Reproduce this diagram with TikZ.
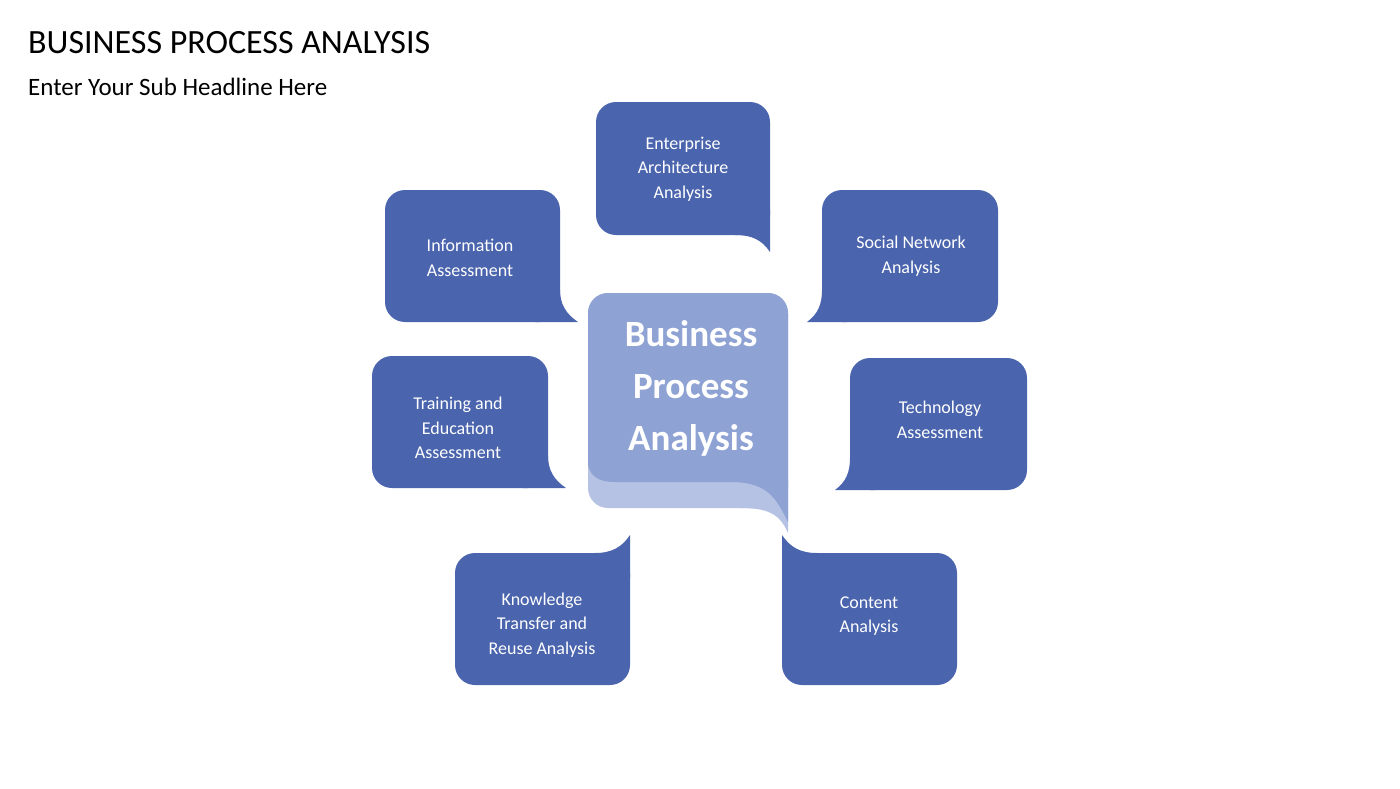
\documentclass[tikz,border=0pt]{standalone}
\usepackage{fontspec}
\setmainfont{Carlito}
\definecolor{boxblue}{HTML}{4A64AD}
\definecolor{centerdark}{HTML}{8FA2D4}
\definecolor{centerlight}{HTML}{B5C2E3}
\tikzset{
  bubble/.style={fill=boxblue, rounded corners=20pt},
  label/.style={text=white, align=center, font=\fontsize{18}{24.5}\selectfont},
}
\begin{document}
\begin{tikzpicture}[x=1pt, y=-1pt]
      \useasboundingbox (0,0) rectangle (1400,788);
      % Headline
      \node[anchor=west, inner sep=0pt, font=\fontsize{34}{40}\selectfont] (title) at (28,43) {BUSINESS PROCESS ANALYSIS};
      \node[anchor=west, inner sep=0pt, font=\fontsize{25}{30}\selectfont] (sub) at (28,87) {Enter Your Sub Headline Here};

      % Center bubble
      \fill[centerlight, rounded corners=20pt] (588,293) rectangle (788,508);
      \fill[centerlight] (760,480) -- (788,480) -- (788,533) .. controls (780,515) and (770,508) .. (740,508) -- cycle;
      \fill[centerdark, rounded corners=20pt] (588,470) -- (588,293) -- (788,293) [sharp corners] -- (788,522)
        .. controls (775,495) and (765,482) .. (730,482) -- (615,482) .. controls (598,482) and (588,476) .. (588,460) -- cycle;
      \node[text=white, align=center, font=\bfseries\fontsize{37}{52}\selectfont] (center) at (691,388) {Business\\Process\\Analysis};

      % Top: tail bottom-right, vertical
      \fill[bubble] (596,102) rectangle (770,235);
      \fill[boxblue] (745,210) -- (770,210) -- (770,252) .. controls (762,240) and (752,235) .. (735,235) -- cycle;
      \node[label] (ea) at (683,169) {Enterprise\\Architecture\\Analysis};

      % Left side: tail bottom-right, horizontal
      \fill[bubble] (385,190) rectangle (560,322);
      \fill[boxblue] (535,297) -- (535,322) -- (578,322) .. controls (566,314) and (560,304) .. (560,290) -- cycle;
      \node[label] (info) at (470,258) {Information\\Assessment};

      \fill[bubble] (372,356) rectangle (548,488);
      \fill[boxblue] (523,463) -- (523,488) -- (566,488) .. controls (554,480) and (548,470) .. (548,456) -- cycle;
      \node[label] (train) at (458,428) {Training and\\Education\\Assessment};

      % Right side: tail bottom-left, horizontal
      \fill[bubble] (822,190) rectangle (998,322);
      \fill[boxblue] (847,297) -- (847,322) -- (807,322) .. controls (818,314) and (822,304) .. (822,290) -- cycle;
      \node[label] (social) at (911,256) {Social Network\\Analysis};

      \fill[bubble] (850,358) rectangle (1027,490);
      \fill[boxblue] (875,465) -- (875,490) -- (835,490) .. controls (846,482) and (850,472) .. (850,458) -- cycle;
      \node[label] (tech) at (940,420) {Technology\\Assessment};

      % Bottom: tail at top, vertical
      \fill[bubble] (455,553) rectangle (630,685);
      \fill[boxblue] (605,578) -- (630,578) -- (630,535) .. controls (622,547) and (612,553) .. (595,553) -- cycle;
      \node[label] (know) at (542,625) {Knowledge\\Transfer and\\Reuse Analysis};

      \fill[bubble] (782,553) rectangle (957,685);
      \fill[boxblue] (807,578) -- (782,578) -- (782,535) .. controls (790,547) and (800,553) .. (817,553) -- cycle;
      \node[label] (content) at (869,616) {Content\\Analysis};
    \end{tikzpicture}
\end{document}
